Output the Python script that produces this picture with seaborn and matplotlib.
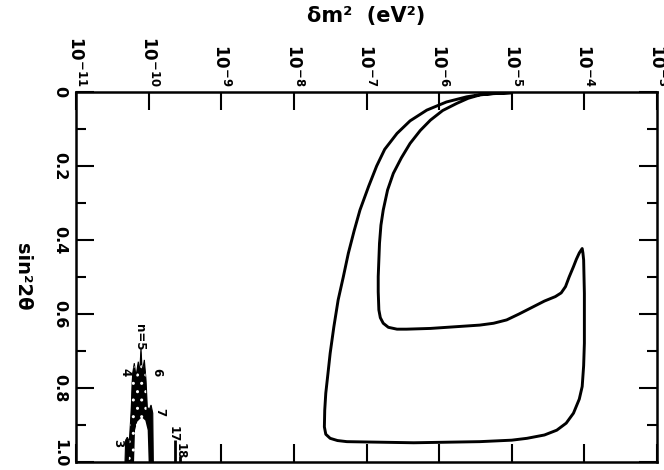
import numpy as np
import pandas as pd
import seaborn as sns
import matplotlib.pyplot as plt
import matplotlib.transforms as mtransforms
from matplotlib.ticker import NullLocator, FixedLocator

# Big allowed region (one closed contour)
contour_dm2 = [1.0e-5, 3.98e-6, 2.40e-6, 1.26e-6, 6.76e-7, 3.98e-7, 2.63e-7, 1.78e-7,
               1.38e-7, 1.07e-7, 8.13e-8, 6.76e-8, 5.62e-8, 4.79e-8, 4.07e-8, 3.55e-8,
               3.16e-8, 2.95e-8, 2.75e-8, 2.66e-8, 2.63e-8, 2.75e-8, 3.16e-8, 3.98e-8,
               5.37e-8, 4.47e-7, 3.63e-6, 1.0e-5, 1.62e-5, 2.82e-5, 4.17e-5, 5.62e-5,
               7.08e-5, 8.51e-5, 9.33e-5, 9.77e-5, 1.0e-4, 1.0e-4, 9.77e-5, 9.55e-5,
               9.33e-5, 8.51e-5, 7.76e-5, 7.08e-5, 6.17e-5, 5.50e-5, 4.79e-5, 3.98e-5,
               2.82e-5, 1.78e-5, 1.26e-5, 8.51e-6, 5.62e-6, 3.63e-6, 7.59e-7, 3.55e-7,
               2.63e-7, 2.00e-7, 1.70e-7, 1.55e-7, 1.48e-7, 1.45e-7, 1.45e-7, 1.51e-7,
               1.58e-7, 1.70e-7, 1.95e-7, 2.34e-7, 3.02e-7, 3.98e-7, 5.50e-7, 7.59e-7,
               1.12e-6, 1.74e-6, 2.51e-6, 3.63e-6, 6.31e-6, 1.0e-5]
contour_sin2 = [0.002, 0.006, 0.013, 0.027, 0.049, 0.078, 0.112, 0.155,
                0.20, 0.255, 0.319, 0.375, 0.436, 0.50, 0.562, 0.635,
                0.706, 0.76, 0.814, 0.86, 0.905, 0.925, 0.936, 0.942,
                0.945, 0.948, 0.945, 0.941, 0.936, 0.927, 0.914, 0.895,
                0.868, 0.83, 0.796, 0.74, 0.679, 0.544, 0.454, 0.435,
                0.423, 0.435, 0.452, 0.472, 0.50, 0.526, 0.543, 0.553,
                0.565, 0.585, 0.60, 0.616, 0.625, 0.630, 0.639, 0.641,
                0.641, 0.636, 0.625, 0.61, 0.589, 0.54, 0.499, 0.409,
                0.36, 0.319, 0.265, 0.220, 0.178, 0.139, 0.104, 0.076,
                0.05, 0.031, 0.017, 0.008, 0.003, 0.002]

# Small spiky region near 1e-10 (outline, dotted part, white gap)
peak_dm2 = [4.73e-11, 4.83e-11, 5.09e-11, 5.42e-11, 5.73e-11, 6.04e-11, 6.35e-11,
            6.70e-11, 7.21e-11, 7.53e-11, 7.85e-11, 8.18e-11, 8.73e-11, 9.20e-11,
            9.59e-11, 1.02e-10, 1.08e-10, 1.14e-10, 1.16e-10]
peak_sin2 = [1.0, 0.941, 0.933, 0.945, 0.868, 0.760, 0.733,
             0.769, 0.729, 0.760, 0.693, 0.760, 0.724, 0.778,
             0.851, 0.859, 0.846, 0.868, 1.0]
dotted_dm2 = [5.32e-11, 5.66e-11, 5.90e-11, 6.35e-11, 6.70e-11, 7.21e-11, 7.53e-11,
              7.85e-11, 8.18e-11, 8.73e-11, 9.20e-11, 9.39e-11, 6.17e-11]
dotted_sin2 = [1.0, 0.886, 0.769, 0.738, 0.771, 0.733, 0.765,
               0.699, 0.765, 0.729, 0.778, 0.873, 1.0]
gap_dm2 = [6.30e-11, 6.50e-11, 6.98e-11, 8.04e-11, 9.01e-11, 9.70e-11, 1.00e-10]
gap_sin2 = [1.0, 0.914, 0.891, 0.879, 0.888, 0.914, 1.0]
spike_dm2 = [2.31e-10, 2.71e-10]
spike_top = [0.94, 0.985]

n_labels = ['n=5', '4', '6', '7', '3', '17', '18']
n_dm2 = [7.6e-11, 4.73e-11, 1.29e-10, 1.43e-10, 3.72e-11, 2.19e-10, 2.75e-10]
n_sin2 = [0.662, 0.756, 0.756, 0.864, 0.95, 0.925, 0.97]

x_ticks = [1e-11, 1e-10, 1e-9, 1e-8, 1e-7, 1e-6, 1e-5, 1e-4, 1e-3]
x_labels = [r'$\mathbf{10^{-11}}$', r'$\mathbf{10^{-10}}$', r'$\mathbf{10^{-9}}$',
            r'$\mathbf{10^{-8}}$', r'$\mathbf{10^{-7}}$', r'$\mathbf{10^{-6}}$',
            r'$\mathbf{10^{-5}}$', r'$\mathbf{10^{-4}}$', r'$\mathbf{10^{-3}}$']
y_ticks = [0, 0.2, 0.4, 0.6, 0.8, 1.0]
y_labels = ['0', '0.2', '0.4', '0.6', '0.8', '1.0']

sns.set_style("white")
plt.rcParams['font.family'] = ['DejaVu Sans']
plt.rcParams['font.weight'] = 'bold'
plt.rcParams['mathtext.fontset'] = 'dejavusans'
for key in ['text.color', 'axes.labelcolor', 'xtick.color', 'ytick.color']:
    plt.rcParams[key] = 'black'

fig = plt.figure(figsize=(6.64, 4.70), dpi=100)
ax = fig.add_axes([76 / 664, 8 / 470, 581 / 664, 370 / 470])
ax.set_xscale('log')
ax.set_xlim(1e-11, 1e-3)
ax.set_ylim(1.0, 0.0)

df = pd.DataFrame({'dm2': contour_dm2, 'sin2': contour_sin2})
sns.lineplot(data=df, x='dm2', y='sin2', sort=False, estimator=None,
             color='black', linewidth=2.1, solid_joinstyle='round', ax=ax)

ax.fill(peak_dm2, peak_sin2, facecolor='black', edgecolor='black', linewidth=0.8)
ax.fill(dotted_dm2, dotted_sin2, facecolor='black', edgecolor='white', hatch='..',
        linewidth=0)
ax.fill(gap_dm2, gap_sin2, facecolor='white', edgecolor='white', linewidth=0)
ax.vlines(spike_dm2, spike_top, 1.0, color='black', linewidth=2)

for lab, xv, yv in zip(n_labels, n_dm2, n_sin2):
    ax.text(xv, yv, lab, rotation=-90, ha='center', va='center', fontsize=8.5,
            fontweight='bold')

# axes, ticks
ax.xaxis.set_major_locator(FixedLocator(x_ticks))
ax.xaxis.set_minor_locator(NullLocator())
ax.set_xticklabels(x_labels)
ax.set_yticks(y_ticks)
ax.set_yticklabels(y_labels)
ax.yaxis.set_minor_locator(FixedLocator([0.1, 0.3, 0.5, 0.7, 0.9]))

ax.tick_params(axis='x', which='major', top=True, bottom=True, labeltop=True,
               labelbottom=False, direction='in', length=13, width=1.5,
               labelsize=12, labelrotation=-90, pad=4)
ax.tick_params(axis='y', which='major', left=True, right=True, direction='in',
               length=13, width=1.5, labelsize=11.5, labelrotation=-90, pad=6)
ax.tick_params(axis='y', which='minor', left=True, right=True, direction='in',
               length=7, width=1.5)
ylabs = ax.get_yticklabels()
for lab in ylabs:
    lab.set_va('center')
# bottom label sits a little above the corner in the scan
ylabs[-1].set_va('bottom')
ylabs[-1].set_transform(ylabs[-1].get_transform()
                        + mtransforms.ScaledTranslation(0, -0.05, fig.dpi_scale_trans))

for spine in ax.spines.values():
    spine.set_visible(True)
    spine.set_color('black')
    spine.set_linewidth(1.8)

ax.xaxis.set_label_position('top')
ax.set_xlabel('δm²  (eV²)', fontsize=15, fontweight='bold', labelpad=10)
ax.set_ylabel('sin²2θ', fontsize=14, fontweight='bold', rotation=-90,
              labelpad=22, va='center')
ax.grid(False)

fig.savefig('out.png', dpi=100)
